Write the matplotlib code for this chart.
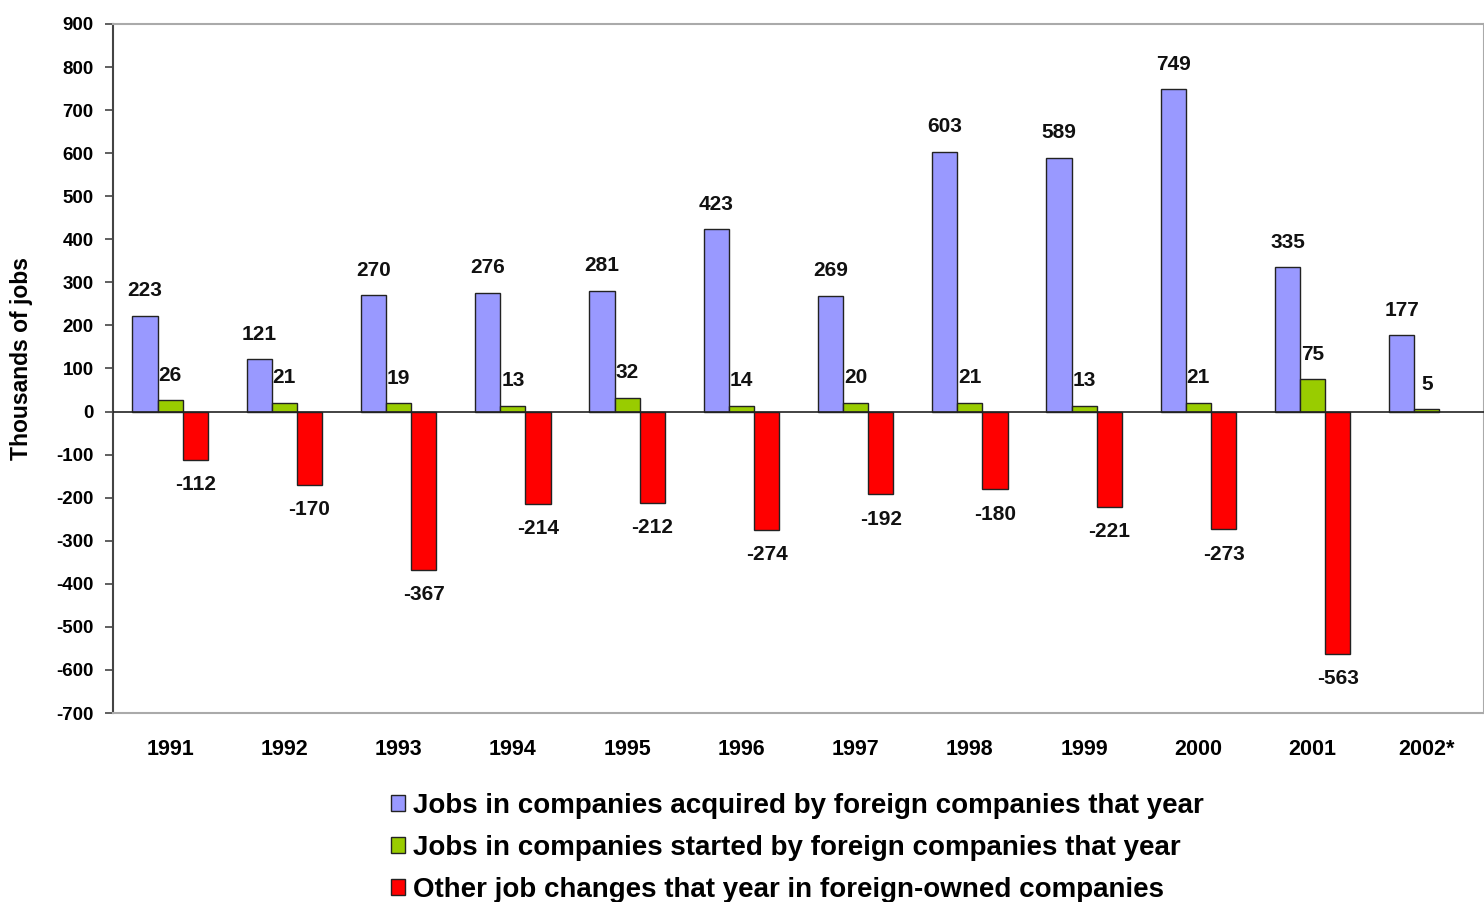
import matplotlib
matplotlib.use("Agg")
import matplotlib.pyplot as plt
import numpy as np

years = ["1991", "1992", "1993", "1994", "1995", "1996", "1997", "1998", "1999", "2000", "2001", "2002*"]
acquired = [223, 121, 270, 276, 281, 423, 269, 603, 589, 749, 335, 177]
started = [26, 21, 19, 13, 32, 14, 20, 21, 13, 21, 75, 5]
other = [-112, -170, -367, -214, -212, -274, -192, -180, -221, -273, -563, None]

series_names = [
    "Jobs in companies acquired by foreign companies that year",
    "Jobs in companies started by foreign companies that year",
    "Other job changes that year in foreign-owned companies",
]
colors = ["#9999FF", "#99CC00", "#FF0000"]

plt.rcParams['font.family'] = ['Liberation Sans', 'DejaVu Sans']
plt.rcParams['axes.unicode_minus'] = False

fig = plt.figure(figsize=(14.84, 9.02), dpi=100)
ax = fig.add_axes([113/1484, 1-713/902, 1-113/1484, (713-24)/902])

x = np.arange(len(years))
w = 0.22
offsets = [-w, 0, w]
all_series = [acquired, started, other]
for s, (vals, off, col, name) in enumerate(zip(all_series, offsets, colors, series_names)):
    xs = [xi + off for xi, v in zip(x, vals) if v is not None]
    vs = [v for v in vals if v is not None]
    ax.bar(xs, vs, width=w, color=col, edgecolor="#222222", linewidth=1.0, label=name, zorder=3)
    for xi, v in zip(xs, vs):
        yy = v + 58 if v >= 0 else v - 58
        ax.text(xi, yy, str(v), ha="center", va="center", fontsize=15, fontweight="bold",
                color="#111111", zorder=4)

ax.set_xlim(-0.5, len(years) - 0.5)
ax.set_ylim(-700, 900)
ax.set_yticks(np.arange(-700, 901, 100))
ax.tick_params(axis="y", labelsize=13.5, length=6, width=1.2, color="#444444", pad=8)
for lbl in ax.get_yticklabels():
    lbl.set_fontweight("bold")
ax.set_xticks(x)
ax.set_xticklabels(years, fontsize=15.5, fontweight="bold")
ax.tick_params(axis="x", length=0, pad=19)

ax.axhline(0, color="#222222", linewidth=1.2, zorder=5)
ax.spines["left"].set_color("#444444")
ax.spines["left"].set_linewidth(1.5)
for sp in ["top", "bottom", "right"]:
    ax.spines[sp].set_color("#aaaaaa")
    ax.spines[sp].set_linewidth(1.5)

fig.text(22/1484, 1-358/902, "Thousands of jobs", rotation=90, ha="center", va="center",
         fontsize=16.5, fontweight="bold")

leg = fig.legend(loc="upper left", bbox_to_anchor=(391/1484, 1-793/902), frameon=False,
                 prop={"size": 20, "weight": "bold"}, handlelength=0.5, handleheight=0.5,
                 handletextpad=0.3, labelspacing=0.58, borderaxespad=0, borderpad=0)

fig.savefig("out.png", dpi=100)
